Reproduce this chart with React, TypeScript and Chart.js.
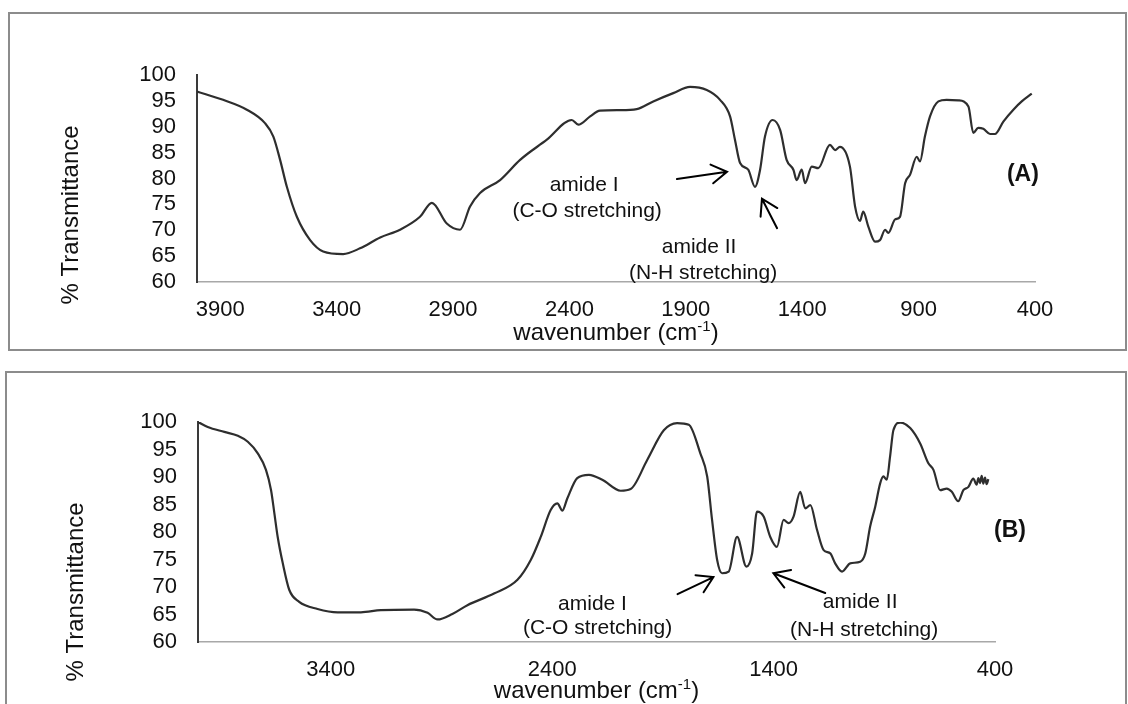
import React, { useEffect, useRef } from 'react';
import { Chart, registerables } from 'chart.js';

Chart.register(...registerables);

// ---------- Data ----------
const A_WAVENUMBER = [
  4000, 3888, 3786, 3708, 3672, 3643, 3614, 3571, 3514, 3458, 3372, 3300, 3213, 3128, 3042, 2991,
  2927, 2870, 2827, 2784, 2698, 2612, 2497, 2390, 2362, 2311, 2269, 2183, 2111, 2040, 1954, 1882,
  1810, 1753, 1710, 1689, 1667, 1632, 1603, 1581, 1560, 1527, 1495, 1467, 1438, 1424, 1402, 1388,
  1359, 1331, 1281, 1259, 1238, 1195, 1173, 1152, 1138, 1116, 1087, 1066, 1044, 1030, 1001, 980,
  958, 937, 908, 894, 873, 851, 815, 780, 729, 686, 665, 644, 622, 593, 572, 536, 493, 457, 414,
];
const A_TRANSMITTANCE = [
  96.8, 95.2, 93.3, 90.7, 88.1, 83.6, 78.4, 72.6, 68.1, 65.9, 65.4, 66.5, 68.6, 70.1, 72.6, 75.3,
  71.3, 70.1, 74.6, 77.2, 79.7, 83.6, 87.5, 91.3, 90.4, 92.0, 93.1, 93.2, 93.4, 94.9, 96.5, 97.7,
  97.1, 95.2, 92.0, 87.5, 83.0, 81.7, 78.4, 81.7, 88.1, 91.3, 89.4, 83.6, 81.7, 79.7, 81.7, 79.1,
  82.3, 82.0, 86.5, 85.5, 86.1, 82.3, 74.6, 71.8, 73.6, 70.7, 67.8, 68.1, 70.1, 69.5, 72.1, 72.6,
  79.1, 80.7, 84.2, 83.3, 88.1, 92.0, 94.9, 95.2, 95.1, 93.9, 88.8, 89.8, 89.6, 88.6, 88.6, 91.0,
  93.3, 94.9, 96.4,
];

const B_WAVENUMBER = [
  4000, 3956, 3881, 3820, 3775, 3730, 3693, 3670, 3655, 3640, 3617, 3588, 3543, 3460, 3369, 3264,
  3174, 3024, 2963, 2918, 2851, 2783, 2663, 2557, 2497, 2452, 2407, 2377, 2354, 2332, 2287, 2234,
  2174, 2091, 2046, 1971, 1896, 1836, 1783, 1731, 1700, 1678, 1655, 1633, 1603, 1565, 1523, 1497,
  1475, 1445, 1415, 1385, 1355, 1332, 1310, 1280, 1257, 1234, 1204, 1174, 1144, 1122, 1091, 1054,
  1009, 986, 964, 941, 919, 904, 889, 874, 859, 828, 783, 738, 701, 678, 648, 618, 595, 566, 543,
  520, 498, 483, 475, 468, 460, 453, 445, 438, 430,
];
const B_TRANSMITTANCE = [
  100, 99.1, 98.2, 97.5, 96.4, 94.3, 91.3, 87.6, 83.4, 79.1, 74.3, 69.5, 67.3, 66.0, 65.4, 65.4,
  65.8, 65.9, 65.3, 64.1, 65.1, 66.7, 68.8, 71.3, 74.9, 79.1, 84.0, 85.2, 83.9, 86.1, 89.8, 90.4,
  89.5, 87.5, 87.8, 93.1, 98.5, 99.8, 99.5, 94.3, 90.1, 82.2, 74.9, 72.5, 72.8, 79.1, 73.7, 76.1,
  83.7, 82.8, 79.1, 77.3, 82.2, 81.6, 82.8, 87.3, 84.3, 84.9, 80.4, 76.7, 76.1, 74.3, 72.8, 74.3,
  74.6, 76.1, 81.0, 84.6, 88.8, 90.1, 89.5, 93.7, 98.5, 99.9, 98.9, 96.1, 92.5, 91.3, 87.6, 87.9,
  87.3, 85.6, 87.6, 88.2, 89.7, 88.6, 89.8, 88.9, 90.2, 88.8, 89.9, 88.7, 89.6,
];

const A_X_TICKS = [3900, 3400, 2900, 2400, 1900, 1400, 900, 400];
const B_X_TICKS = [3400, 2400, 1400, 400];
const Y_TICKS = [60, 65, 70, 75, 80, 85, 90, 95, 100];

const Y_TITLE = '% Transmittance';
const X_TITLE_MAIN = 'wavenumber (cm';
const X_TITLE_SUP = '-1';
const X_TITLE_END = ')';

// annotation texts placed in data units (wavenumber, %T)
const A_TEXTS = [
  { text: 'amide I', wn: 2337, t: 78.8 },
  { text: '(C-O stretching)', wn: 2324, t: 73.7 },
  { text: 'amide II', wn: 1843, t: 66.8 },
  { text: '(N-H stretching)', wn: 1826, t: 61.7 },
];
const A_ARROWS = [
  { from: [1938, 79.9], to: [1723, 81.3] },
  { from: [1508, 70.4], to: [1573, 76.1] },
];
const A_LABEL = { text: '(A)', wn: 452, t: 80.7 };

const B_TEXTS = [
  { text: 'amide I', wn: 2218, t: 66.9 },
  { text: '(C-O stretching)', wn: 2195, t: 62.5 },
  { text: 'amide II', wn: 1009, t: 67.3 },
  { text: '(N-H stretching)', wn: 991, t: 62.2 },
];
const B_ARROWS = [
  { from: [1834, 68.7], to: [1672, 71.8] },
  { from: [1167, 68.9], to: [1401, 72.5] },
];
const B_LABEL = { text: '(B)', wn: 332, t: 80.2 };

const FAMILY = '"Liberation Sans", Arial, Helvetica, sans-serif';

type PanelProps = {
  top: number;
  height: number;
  wn: number[];
  tr: number[];
  xTicks: number[];
  texts: { text: string; wn: number; t: number }[];
  arrows: { from: number[]; to: number[] }[];
  label: { text: string; wn: number; t: number };
  area: { left: number; right: number; top: number; bottom: number };
  yTitlePos: { dx: number; y: number };
  xTitleDy: number;
};

function Panel(p: PanelProps) {
  const ref = useRef<HTMLCanvasElement | null>(null);
  useEffect(() => {
    if (!ref.current) return;
    const W = 1128;
    const overlay = {
      id: 'overlay',
      afterDraw(chart: any) {
        const { ctx, chartArea, scales } = chart;
        const xs = scales.x;
        const ys = scales.y;
        ctx.save();
        ctx.fillStyle = '#111';
        // y title
        ctx.save();
        ctx.translate(chartArea.left + p.yTitlePos.dx, p.yTitlePos.y);
        ctx.rotate(-Math.PI / 2);
        ctx.font = `24px ${FAMILY}`;
        ctx.textAlign = 'center';
        ctx.textBaseline = 'middle';
        ctx.fillText(Y_TITLE, 0, 0);
        ctx.restore();
        // x title with superscript
        const mainFont = `24px ${FAMILY}`;
        const supFont = `15px ${FAMILY}`;
        ctx.font = mainFont;
        const w1 = ctx.measureText(X_TITLE_MAIN).width;
        const w3 = ctx.measureText(X_TITLE_END).width;
        ctx.font = supFont;
        const w2 = ctx.measureText(X_TITLE_SUP).width;
        const total = w1 + w2 + w3;
        const cx = (chartArea.left + chartArea.right) / 2;
        const baseY = chartArea.bottom + p.xTitleDy;
        let sx = cx - total / 2;
        ctx.textAlign = 'left';
        ctx.textBaseline = 'alphabetic';
        ctx.font = mainFont;
        ctx.fillText(X_TITLE_MAIN, sx, baseY);
        sx += w1;
        ctx.font = supFont;
        ctx.fillText(X_TITLE_SUP, sx, baseY - 9);
        sx += w2;
        ctx.font = mainFont;
        ctx.fillText(X_TITLE_END, sx, baseY);
        // annotation texts
        ctx.font = `21px ${FAMILY}`;
        ctx.textAlign = 'center';
        ctx.textBaseline = 'middle';
        for (const t of p.texts) {
          ctx.fillText(t.text, xs.getPixelForValue(t.wn), ys.getPixelForValue(t.t));
        }
        ctx.font = `bold 23px ${FAMILY}`;
        ctx.fillText(p.label.text, xs.getPixelForValue(p.label.wn), ys.getPixelForValue(p.label.t));
        // arrows
        ctx.strokeStyle = '#000';
        ctx.lineWidth = 2;
        ctx.lineCap = 'round';
        for (const a of p.arrows) {
          const x0 = xs.getPixelForValue(a.from[0]);
          const y0 = ys.getPixelForValue(a.from[1]);
          const x1 = xs.getPixelForValue(a.to[0]);
          const y1 = ys.getPixelForValue(a.to[1]);
          const ang = Math.atan2(y1 - y0, x1 - x0);
          const hl = 18;
          const spread = 0.55;
          ctx.beginPath();
          ctx.moveTo(x0, y0);
          ctx.lineTo(x1, y1);
          ctx.moveTo(x1 - hl * Math.cos(ang - spread), y1 - hl * Math.sin(ang - spread));
          ctx.lineTo(x1, y1);
          ctx.lineTo(x1 - hl * Math.cos(ang + spread), y1 - hl * Math.sin(ang + spread));
          ctx.stroke();
        }
        ctx.restore();
      },
    };
    const chart = new Chart(ref.current, {
      type: 'line',
      data: {
        datasets: [
          {
            data: p.wn.map((w, i) => ({ x: w, y: p.tr[i] })),
            borderColor: '#2e2e2e',
            borderWidth: 2.2,
            pointRadius: 0,
            cubicInterpolationMode: 'monotone',
            fill: false,
          },
        ],
      },
      options: {
        responsive: false,
        animation: false,
        events: [],
        layout: {
          padding: { left: 0, top: p.area.top, right: W - p.area.right, bottom: 0 },
        },
        plugins: { legend: { display: false }, tooltip: { enabled: false }, title: { display: false } },
        scales: {
          x: {
            type: 'linear',
            reverse: true,
            min: 400,
            max: 4000,
            afterBuildTicks: (s: any) => {
              s.ticks = p.xTicks.map((v) => ({ value: v }));
            },
            afterFit: (s: any) => {
              s.height = p.height - p.area.bottom;
            },
            grid: { display: false, drawTicks: false },
            border: { display: true, color: '#a8a8a8', width: 1.5 },
            ticks: {
              autoSkip: false,
              maxRotation: 0,
              padding: 15,
              color: '#111',
              font: { family: FAMILY, size: 22 },
              callback: (v: any) => String(v),
            },
          },
          y: {
            type: 'linear',
            min: 60,
            max: 100,
            afterBuildTicks: (s: any) => {
              s.ticks = Y_TICKS.map((v) => ({ value: v }));
            },
            afterFit: (s: any) => {
              s.width = p.area.left;
            },
            grid: { display: false, drawTicks: false },
            border: { display: true, color: '#3a3a3a', width: 2 },
            ticks: {
              autoSkip: false,
              padding: 21,
              color: '#111',
              font: { family: FAMILY, size: 22 },
              callback: (v: any) => String(v),
            },
          },
        },
      },
      plugins: [overlay],
    } as any);
    return () => chart.destroy();
  }, []);
  return (
    <canvas
      ref={ref}
      width={1128}
      height={p.height}
      style={{ position: 'absolute', left: 0, top: p.top, width: 1128, height: p.height }}
    />
  );
}

export default function App() {
  return (
    <div
      style={{
        position: 'fixed',
        left: 0,
        top: 0,
        width: 1128,
        height: 704,
        background: '#fff',
        overflow: 'hidden',
      }}
    >
      <div
        style={{
          position: 'absolute',
          left: 8,
          top: 12,
          width: 1119,
          height: 339,
          border: '2px solid #8c8c8c',
          boxSizing: 'border-box',
        }}
      />
      <div
        style={{
          position: 'absolute',
          left: 5,
          top: 371,
          width: 1122,
          height: 345,
          border: '2px solid #8c8c8c',
          boxSizing: 'border-box',
        }}
      />
      <Panel
        top={0}
        height={352}
        wn={A_WAVENUMBER}
        tr={A_TRANSMITTANCE}
        xTicks={A_X_TICKS}
        texts={A_TEXTS}
        arrows={A_ARROWS}
        label={A_LABEL}
        area={{ left: 197, right: 1035, top: 75, bottom: 282 }}
        yTitlePos={{ dx: -126, y: 215 }}
        xTitleDy={58}
      />
      <Panel
        top={352}
        height={352}
        wn={B_WAVENUMBER}
        tr={B_TRANSMITTANCE}
        xTicks={B_X_TICKS}
        texts={B_TEXTS}
        arrows={B_ARROWS}
        label={B_LABEL}
        area={{ left: 198, right: 995, top: 70, bottom: 290 }}
        yTitlePos={{ dx: -122, y: 240 }}
        xTitleDy={56}
      />
    </div>
  );
}
